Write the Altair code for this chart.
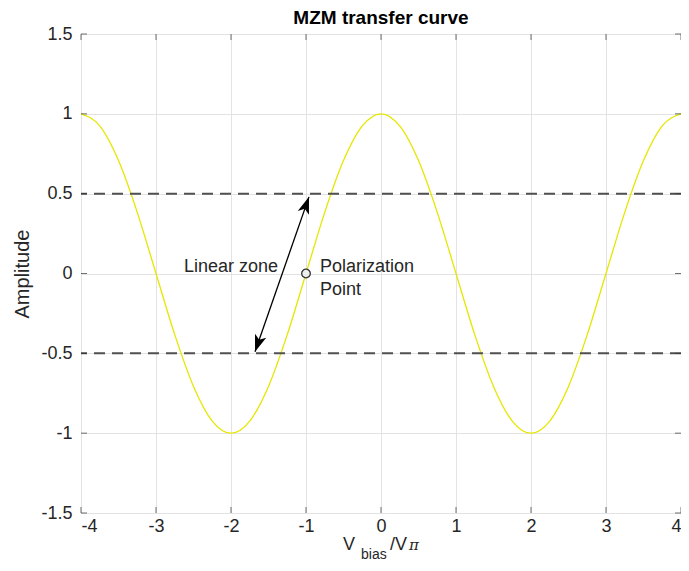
import altair as alt
import pandas as pd

curve_x = [-4, -3.75, -3.5, -3.25, -3, -2.75, -2.5, -2.25, -2, -1.75, -1.5, -1.25,
           -1, -0.75, -0.5, -0.25, 0, 0.25, 0.5, 0.75, 1, 1.25, 1.5, 1.75,
           2, 2.25, 2.5, 2.75, 3, 3.25, 3.5, 3.75, 4]
curve_y = [1, 0.924, 0.707, 0.383, 0, -0.383, -0.707, -0.924, -1, -0.924, -0.707, -0.383,
           0, 0.383, 0.707, 0.924, 1, 0.924, 0.707, 0.383, 0, -0.383, -0.707, -0.924,
           -1, -0.924, -0.707, -0.383, 0, 0.383, 0.707, 0.924, 1]

dash_levels = [0.5, -0.5]
arrow_start = (-1.68, -0.49)
arrow_end = (-0.96, 0.48)
pol_point = (-1, 0)
x_ticks = [-4, -3, -2, -1, 0, 1, 2, 3, 4]
y_ticks = [-1.5, -1, -0.5, 0, 0.5, 1, 1.5]
title_text = "MZM transfer curve"

W, H = 600, 479
FONT = "Liberation Sans"
TXT = "#262626"

xs = alt.Scale(domain=[-4, 4], nice=False, zero=False)
ys = alt.Scale(domain=[-1.5, 1.5], nice=False, zero=False)

df_curve = pd.DataFrame({"x": curve_x, "y": curve_y})
df_dash = pd.DataFrame({"y": dash_levels})
df_arrow = pd.DataFrame({"x": [arrow_start[0]], "y": [arrow_start[1]],
                         "x2": [arrow_end[0]], "y2": [arrow_end[1]]})
df_pt = pd.DataFrame({"x": [pol_point[0]], "y": [pol_point[1]]})
df_xt = pd.DataFrame({"x": x_ticks})
df_yt = pd.DataFrame({"y": y_ticks})

xaxis = alt.Axis(values=x_ticks, grid=True, gridColor="#e3e3e3", domain=False, ticks=False,
                 labelFontSize=18, labelFont=FONT, labelColor=TXT, labelPadding=4,
                 title=None, labelExpr="datum.value + ''")
yaxis = alt.Axis(values=y_ticks, grid=True, gridColor="#e3e3e3", domain=False, ticks=False,
                 labelFontSize=18, labelFont=FONT, labelColor=TXT, labelPadding=9,
                 title="Amplitude", titleFontSize=20, titleFont=FONT, titleFontWeight="normal",
                 titleColor=TXT, titlePadding=8, labelExpr="datum.value + ''")

curve = alt.Chart(df_curve).mark_line(color="#e6e600", strokeWidth=1.3, interpolate="monotone").encode(
    x=alt.X("x:Q", scale=xs, axis=xaxis),
    y=alt.Y("y:Q", scale=ys, axis=yaxis),
)

dashes = alt.Chart(df_dash).mark_rule(color="#505050", strokeWidth=2, strokeDash=[11, 7]).encode(
    y=alt.Y("y:Q", scale=ys)
)

shaft = alt.Chart(df_arrow).mark_rule(color="black", strokeWidth=1.3).encode(
    x=alt.X("x:Q", scale=xs), y=alt.Y("y:Q", scale=ys), x2="x2:Q", y2="y2:Q"
)

head_path = "M0,0L-0.35,1L0,0.75L0.35,1Z"
head_top = alt.Chart(df_arrow).mark_point(shape=head_path, filled=True, color="black",
                                          size=1150, angle=19.4, opacity=1).encode(
    x=alt.X("x2:Q", scale=xs), y=alt.Y("y2:Q", scale=ys)
)
head_bot = alt.Chart(df_arrow).mark_point(shape=head_path, filled=True, color="black",
                                          size=1150, angle=199.4, opacity=1).encode(
    x=alt.X("x:Q", scale=xs), y=alt.Y("y:Q", scale=ys)
)

point = alt.Chart(df_pt).mark_point(shape="circle", filled=True, fill="#eeeeee", stroke="#333333",
                                    strokeWidth=1.3, size=75, opacity=1).encode(
    x=alt.X("x:Q", scale=xs), y=alt.Y("y:Q", scale=ys)
)

lbl_linear = alt.Chart(df_pt).mark_text(text="Linear zone", align="right", baseline="middle",
                                        font=FONT, fontSize=18, color=TXT, dx=-28, dy=-7).encode(
    x=alt.X("x:Q", scale=xs), y=alt.Y("y:Q", scale=ys)
)
lbl_pol = alt.Chart(df_pt).mark_text(text="Polarization", align="left", baseline="middle",
                                     font=FONT, fontSize=18, color=TXT, dx=14, dy=-7).encode(
    x=alt.X("x:Q", scale=xs), y=alt.Y("y:Q", scale=ys)
)
lbl_point = alt.Chart(df_pt).mark_text(text="Point", align="left", baseline="middle",
                                       font=FONT, fontSize=18, color=TXT, dx=14, dy=16).encode(
    x=alt.X("x:Q", scale=xs), y=alt.Y("y:Q", scale=ys)
)

tk = dict(color="#333333", thickness=1, size=6)
tick_top = alt.Chart(df_xt).mark_tick(**tk).encode(x=alt.X("x:Q", scale=xs), y=alt.value(3))
tick_bot = alt.Chart(df_xt).mark_tick(**tk).encode(x=alt.X("x:Q", scale=xs), y=alt.value(H - 3))
tick_left = alt.Chart(df_yt).mark_tick(**tk).encode(y=alt.Y("y:Q", scale=ys), x=alt.value(3))
tick_right = alt.Chart(df_yt).mark_tick(**tk).encode(y=alt.Y("y:Q", scale=ys), x=alt.value(W - 3))

title_mark = alt.Chart(df_pt).mark_text(text=title_text, align="center", baseline="alphabetic",
                                        font=FONT, fontSize=19, fontWeight="bold", color="black").encode(
    x=alt.value(W / 2), y=alt.value(-10))

xt_V = alt.Chart(df_pt).mark_text(text="V", align="left", baseline="alphabetic", font=FONT,
                                  fontSize=18, color=TXT).encode(x=alt.value(262), y=alt.value(516))
xt_bias = alt.Chart(df_pt).mark_text(text="bias", align="left", baseline="alphabetic", font=FONT,
                                     fontSize=14, color=TXT).encode(x=alt.value(280), y=alt.value(525))
xt_V2 = alt.Chart(df_pt).mark_text(text="/V", align="left", baseline="alphabetic", font=FONT,
                                   fontSize=18, color=TXT).encode(x=alt.value(309), y=alt.value(516))
xt_pi = alt.Chart(df_pt).mark_text(text="π", align="left", baseline="alphabetic", font="DejaVu Serif",
                                   fontSize=15, fontStyle="italic", color=TXT).encode(x=alt.value(328), y=alt.value(516))

chart = alt.layer(
    curve, dashes, shaft, head_top, head_bot, point, lbl_linear, lbl_pol, lbl_point,
    tick_top, tick_bot, tick_left, tick_right, title_mark, xt_V, xt_bias, xt_V2, xt_pi
).properties(
    width=W, height=H,
    autosize=alt.AutoSizeParams(type="none"),
    padding={"left": 73, "top": 26, "right": 0, "bottom": 50},
).configure_view(stroke="#333333", strokeWidth=1).configure(background="white")

chart.save("out.html", embed_options={"renderer": "svg", "actions": False})
